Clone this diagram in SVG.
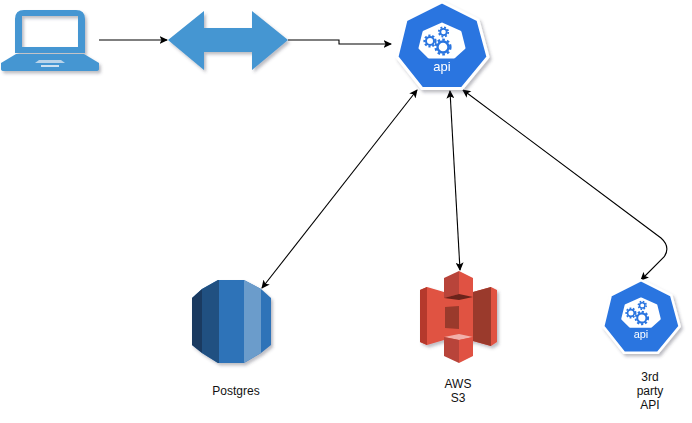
<svg xmlns="http://www.w3.org/2000/svg" xmlns:xlink="http://www.w3.org/1999/xlink" width="692" height="423" viewBox="0 0 692 423">
<style>
text{font-family:"Liberation Sans",Arial,sans-serif;font-size:12px;fill:#111;text-anchor:middle}
.c{fill:none;stroke:#000;stroke-width:1.1}
.sh{filter:url(#s)}
.g{fill:none;stroke:#2a75e0}
</style>
<defs>
<filter id="s" x="-20%" y="-20%" width="150%" height="150%"><feDropShadow dx="2" dy="2.5" stdDeviation="1.6" flood-color="#445" flood-opacity="0.35"/></filter>
<marker id="e" markerWidth="9" markerHeight="8" refX="7.5" refY="4" orient="auto" markerUnits="userSpaceOnUse"><path d="M0 0L8.5 4L0 8L2 4Z" fill="#000"/></marker>
<marker id="b" markerWidth="9" markerHeight="8" refX="1" refY="4" orient="auto" markerUnits="userSpaceOnUse"><path d="M8.5 0L0 4L8.5 8L6.5 4Z" fill="#000"/></marker>
<g id="api">
<path d="M0 -45L36 -27L46 10L20 41.500H-20L-45 10L-36 -27Z" fill="#2a75e0" stroke="#fff" stroke-width="3" stroke-linejoin="round"/>
<path d="M0 -23L18 -15L22 1L12 10H-13L-22 1L-18 -15Z" fill="#fff" stroke="#fff" stroke-width="3" stroke-linejoin="round"/>
<g class="g">
<circle cx="1" cy="0" r="5.500" stroke-width="2.400"/><circle cx="1" cy="0" r="7.400" stroke-width="2.400" stroke-dasharray="2.600 2.240"/>
<circle cx="-12" cy="-6" r="4" stroke-width="2"/><circle cx="-12" cy="-6" r="5.600" stroke-width="2" stroke-dasharray="2.200 1.800"/>
<circle cx="1.500" cy="-15" r="3.200" stroke-width="1.800"/><circle cx="1.500" cy="-15" r="4.700" stroke-width="1.800" stroke-dasharray="1.900 1.790"/>
</g>
<text x="0" y="24" style="font-size:13px;fill:#fff">api</text>
</g>
</defs>

<g id="connectors">
<path class="c" d="M99 40H167" marker-end="url(#e)"/>
<path class="c" d="M288 40H339V44H391" marker-end="url(#e)"/>
<path class="c" d="M262 288L417 90" marker-start="url(#b)" marker-end="url(#e)"/>
<path class="c" d="M450 91L460 270" marker-start="url(#b)" marker-end="url(#e)"/>
<path class="c" d="M463 90L661 238Q671 247 664 257L641 280" marker-start="url(#b)" marker-end="url(#e)"/>
</g>

<g id="laptop" class="sh">
<path d="M15 19Q15 10 24 10H76Q85 10 85 19V53H15ZM22 16V47H78V16Z" fill="#4596d2" fill-rule="evenodd"/>
<path d="M16 54H84L99 63V69Q99 71 96 71H4Q1 71 1 69V63Z" fill="#4596d2"/>
<path d="M39 60H61L65 63H35Z" fill="#b9d4ea"/>
<rect x="41" y="65" width="18" height="2" fill="#cfe2f1"/>
</g>

<g id="gateway" class="sh">
<path d="M168 40L204 11V28H252V11L288 40L252 70V52H204V70Z" fill="#4596d2"/>
</g>

<g id="api-server" class="sh"><use xlink:href="#api" href="#api" transform="translate(442 47)"/></g>

<g id="postgres">
<g class="sh">
<path d="M218 280H244L261 289L271 298V345L261 353L244 363H218L202 353L192 345V298L202 289Z" fill="#2e73b8"/>
</g>
<path d="M192 298L202 289V353L192 345Z" fill="#1a3a60"/>
<path d="M202 289L218 280H219V363H218L202 353Z" fill="#205081"/>
<path d="M244 280L261 289V353L244 363Z" fill="#6b9ccb"/>
<text x="236" y="395">Postgres</text>
</g>

<g id="s3">
<g class="sh">
<path d="M420 290L427 287L444 292L459 290L473 292L491 287L497 290V342L491 346L473 341L459 345L444 340L427 345L420 342Z" fill="#e05243"/>
</g>
<path d="M420 290L427 287V345L420 342Z" fill="#b5392c"/>
<path d="M473 292L491 287V346L473 341Z" fill="#9a3a2c"/>
<path d="M444 278L459 271V294L444 298Z" fill="#b8443a"/>
<path d="M459 271L473 278V297L459 294Z" fill="#e05243"/>
<path d="M444 298L459 294L473 297L459 300Z" fill="#6b231b"/>
<path d="M445 307L459 306V329L445 328Z" fill="#9a3a2c"/>
<path d="M444 337L459 334L473 337L459 340Z" fill="#f2b0a9"/>
<path d="M444 337L459 340V363L444 356Z" fill="#b8443a"/>
<path d="M459 340L473 337V356L459 363Z" fill="#e05243"/>
<text x="458" y="388">AWS</text>
<text x="458" y="402">S3</text>
</g>

<g id="third-party">
<g class="sh"><use xlink:href="#api" href="#api" transform="translate(641 318) scale(0.84)"/></g>
<text x="650" y="381">3rd</text>
<text x="650" y="395">party</text>
<text x="650" y="409">API</text>
</g>
</svg>
